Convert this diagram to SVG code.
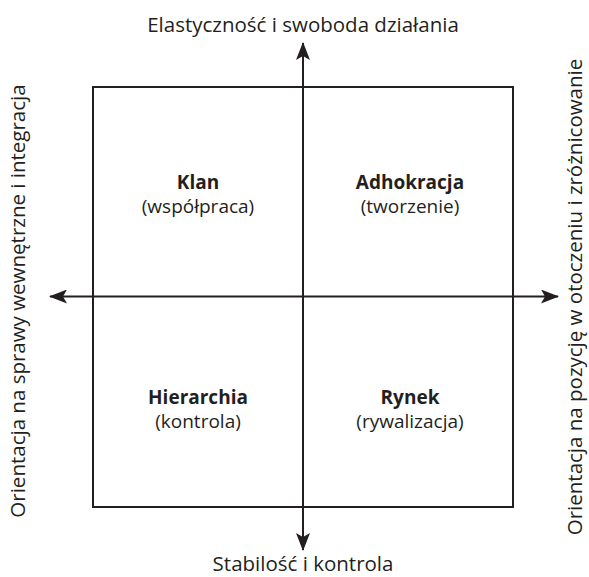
<svg xmlns="http://www.w3.org/2000/svg" width="589" height="577" viewBox="0 0 589 577">
<style>
text{font-family:"Open Sans","Noto Sans","DejaVu Sans",sans-serif;fill:#231f20;font-size:19px;text-anchor:middle}
.b{font-weight:bold}
.ax{font-size:20.5px}
.ln{stroke:#231f20;stroke-width:2;fill:none}
</style>
<defs>
<marker id="ah" viewBox="0 0 18 14" refX="17" refY="7" markerWidth="18" markerHeight="14" markerUnits="userSpaceOnUse" orient="auto">
<path d="M0,0 L18,7 L0,14 L4,7 Z" fill="#231f20"/>
</marker>
</defs>
<rect width="589" height="577" fill="#fff"/>
<g id="frame"><rect class="ln" x="93" y="87" width="420" height="420"/></g>
<g id="connectors">
<line class="ln" x1="303" y1="296.5" x2="303" y2="43" marker-end="url(#ah)"/>
<line class="ln" x1="303" y1="296.5" x2="303" y2="550" marker-end="url(#ah)"/>
<line class="ln" x1="303" y1="296.5" x2="50" y2="296.5" marker-end="url(#ah)"/>
<line class="ln" x1="303" y1="296.5" x2="558" y2="296.5" marker-end="url(#ah)"/>
</g>
<g id="klan"><text class="b" x="198" y="189">Klan</text><text x="198" y="213">(współpraca)</text></g>
<g id="adhokracja"><text class="b" x="410" y="189">Adhokracja</text><text x="410" y="213">(tworzenie)</text></g>
<g id="hierarchia"><text class="b" x="198" y="404">Hierarchia</text><text x="198" y="428">(kontrola)</text></g>
<g id="rynek"><text class="b" x="410" y="404">Rynek</text><text x="410" y="428">(rywalizacja)</text></g>
<g id="labels">
<text class="ax" x="303" y="32">Elastyczność i swoboda działania</text>
<text class="ax" x="303" y="571">Stabilość i kontrola</text>
<text class="ax" transform="translate(25 301) rotate(-90)">Orientacja na sprawy wewnętrzne i integracja</text>
<text class="ax" transform="translate(582 297) rotate(-90)">Orientacja na pozycję w otoczeniu i zróżnicowanie</text>
</g>
</svg>
